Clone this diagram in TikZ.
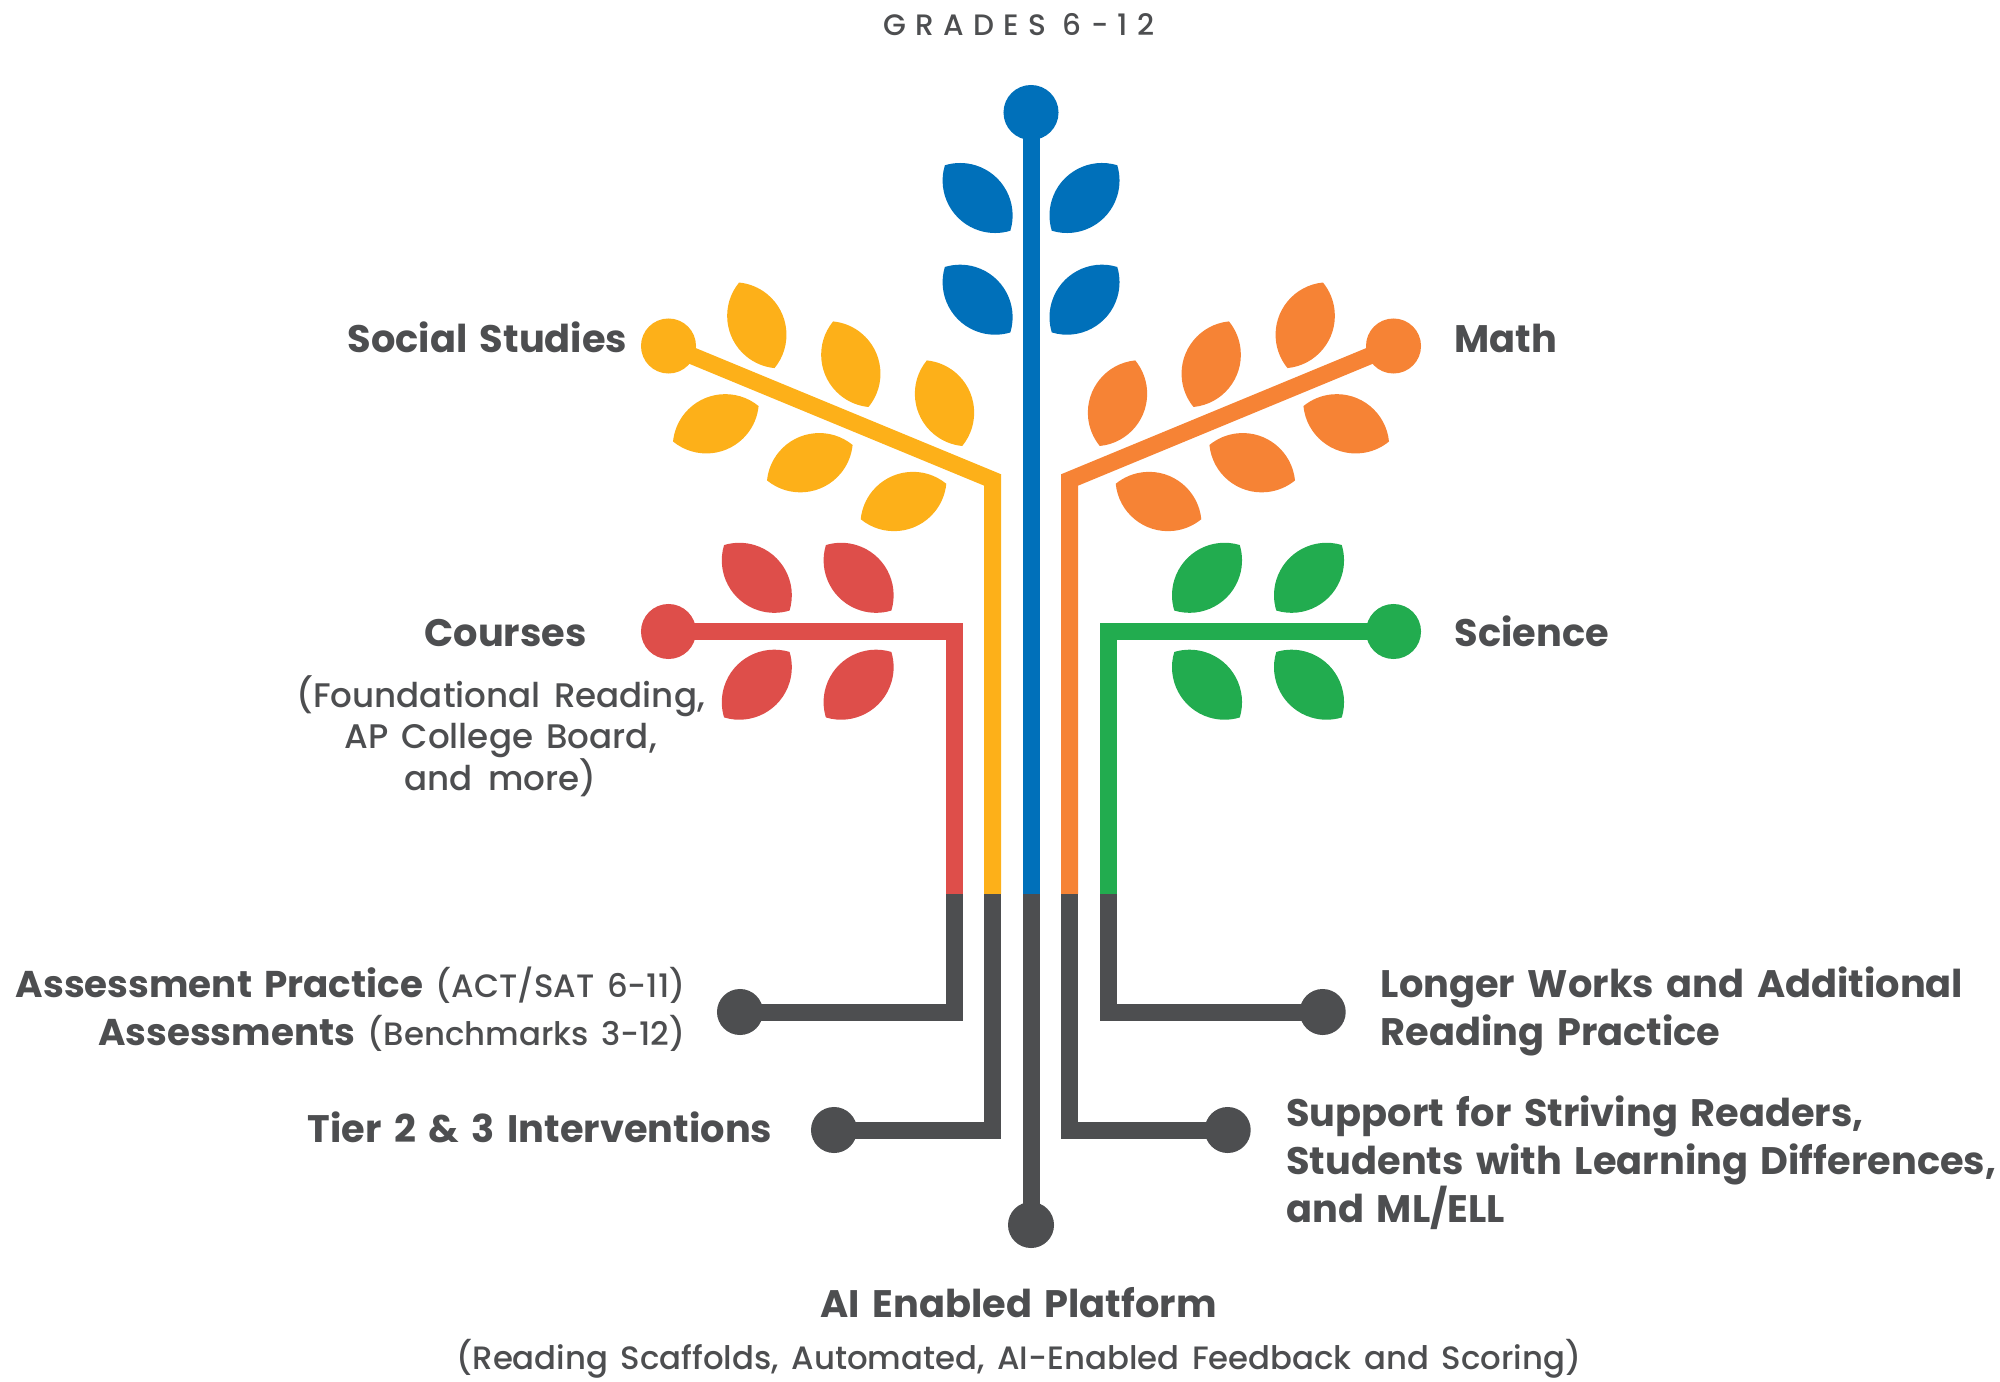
\documentclass[tikz,border=0pt]{standalone}
\usepackage{fontspec}
\setmainfont[WordSpace=1.55]{Poppins}
\newfontfamily\notefont[WordSpace=1.5]{Poppins Medium}
\newfontfamily\spacedfont[LetterSpace=31]{Poppins Medium}
\usetikzlibrary{positioning}

\definecolor{leafblue}{HTML}{0070BA}
\definecolor{leafyellow}{HTML}{FDB019}
\definecolor{leaforange}{HTML}{F68335}
\definecolor{leafred}{HTML}{DE4E4A}
\definecolor{leafgreen}{HTML}{22AC4F}
\definecolor{stem}{HTML}{4D4E50}

\newcommand{\boldpart}[1]{{\fontsize{10.6}{13.65}\selectfont\rmfamily\bfseries #1}}
\newcommand{\snuglines}{\setlength{\lineskiplimit}{-10pt}}

\tikzset{
	leaf/.pic={\path[pic actions] (-46.3,0) arc[start angle=151.9, end angle=28.1, radius=52.5]
			arc[start angle=-28.1, end angle=-151.9, radius=52.5] -- cycle;},
	limb/.style={line width=0.17cm},
	dot/.style={circle, inner sep=0pt, minimum size=0.55cm},
	root/.style={circle, inner sep=0pt, minimum size=0.46cm, fill=stem},
	title/.style={text=stem, inner sep=0pt, font=\fontsize{10.9}{13.65}\selectfont\bfseries},
	note/.style={text=stem, inner sep=0pt, font=\fontsize{9.7}{11.75}\selectfont\notefont\snuglines},
	wide note/.style={text=stem, inner sep=0pt, font=\fontsize{9.2}{11.75}\selectfont\notefont},
	mixed/.style={text=stem, inner sep=0pt, font=\fontsize{9.2}{13.65}\selectfont\notefont}
}

\begin{document}
\begin{tikzpicture}[x=0.01cm, y=-0.01cm]
	\useasboundingbox (0,0) rectangle (2000,1382);

	% leaves
	\foreach \lx/\ly/\la in {977.6/198/-45, 1084.5/198/45, 977.6/299.7/-45, 1084.5/299.7/45}
		\pic[fill=leafblue, rotate=\la] at (\lx,\ly) {leaf};
	\foreach \lx/\ly/\la in {756.8/325.3/-67.5, 850.8/364.2/-67.5, 944.5/403.2/-67.5,
			715.8/423.8/22.5, 809.8/462.7/22.5, 903.5/501.5/22.5}
		\pic[fill=leafyellow, rotate=\la] at (\lx,\ly) {leaf};
	\foreach \lx/\ly/\la in {1305.2/325.3/67.5, 1211.2/364.2/67.5, 1117.5/403.2/67.5,
			1346.2/423.8/-22.5, 1252.2/462.7/-22.5, 1158.5/501.5/-22.5}
		\pic[fill=leaforange, rotate=\la] at (\lx,\ly) {leaf};
	\foreach \lx/\ly/\la in {756.8/577.8/-45, 858.6/577.8/-45, 756.8/684.7/45, 858.6/684.7/45}
		\pic[fill=leafred, rotate=\la] at (\lx,\ly) {leaf};
	\foreach \lx/\ly/\la in {1207/577.8/45, 1309/577.8/45, 1207/684.7/-45, 1309/684.7/-45}
		\pic[fill=leafgreen, rotate=\la] at (\lx,\ly) {leaf};

	% dots
	\node[dot, fill=leafblue] (dotTop) at (1031,112.5) {};
	\node[dot, fill=leafyellow] (dotSocial) at (668.5,346) {};
	\node[dot, fill=leaforange] (dotMath) at (1393.5,346) {};
	\node[dot, fill=leafred] (dotCourses) at (668.5,631.5) {};
	\node[dot, fill=leafgreen] (dotScience) at (1393.5,631.5) {};
	\node[root] (dotAssess) at (740,1012) {};
	\node[root] (dotTier) at (834,1130) {};
	\node[root] (dotLonger) at (1322.7,1012) {};
	\node[root] (dotSupport) at (1227.7,1130) {};
	\node[root] (dotPlatform) at (1031,1225) {};

	% where the colours stop
	\coordinate (cutCourses) at (954.3,894);
	\coordinate (cutSocial) at (992.7,894);
	\coordinate (cutTrunk) at (1031,894);
	\coordinate (cutMath) at (1069.5,894);
	\coordinate (cutScience) at (1108,894);
	\coordinate (bendSocial) at (992.7,480);
	\coordinate (bendMath) at (1069.5,480);

	% branches
	\draw[limb, leafblue] (dotTop.center) -- (cutTrunk);
	\draw[limb, leafyellow] (dotSocial.center) -- (bendSocial) -- (cutSocial);
	\draw[limb, leaforange] (dotMath.center) -- (bendMath) -- (cutMath);
	\draw[limb, leafred] (dotCourses.center) -| (cutCourses);
	\draw[limb, leafgreen] (dotScience.center) -| (cutScience);

	% roots
	\draw[limb, stem] (cutTrunk) -- (dotPlatform.center);
	\draw[limb, stem] (cutCourses) |- (dotAssess.center);
	\draw[limb, stem] (cutSocial) |- (dotTier.center);
	\draw[limb, stem] (cutMath) |- (dotSupport.center);
	\draw[limb, stem] (cutScience) |- (dotLonger.center);

	% labels
	\node[text=stem, inner sep=0pt, anchor=base, font=\fontsize{8.4}{10}\selectfont\spacedfont] (grades) at (1019,35.7) {GRADES 6-12};
	\node[title, anchor=base east] (social) at (628,352.7) {Social Studies};
	\node[title, anchor=base west] (math) at (1454,352.7) {Math};
	\node[title, anchor=base] (courses) at (505.5,646) {Courses};
	\node[title, anchor=base west] (science) at (1454,646) {Science};
	\node[note, anchor=base, align=center] (coursesNote) at (500.6,790) {(Foundational Reading,\\AP College Board,\\and\hspace{0.45em}more)};
	\node[mixed, anchor=base east, align=right] (assess) at (686,1045.7) {\boldpart{Assessment Practice} (ACT/SAT 6-11)\\\boldpart{Assessments} (Benchmarks 3-12)};
	\node[title, anchor=base east] (tier) at (773,1142.7) {Tier 2 \& 3 Interventions};
	\node[title, anchor=base west, align=left] (longer) at (1380,1045.7) {Longer Works and Additional\\Reading Practice};
	\node[title, anchor=base west, align=left] (support) at (1285.7,1222.7) {Support for Striving Readers,\\Students with Learning Differences,\\and ML/ELL};
	\node[title, anchor=base] (platform) at (1018.5,1317.7) {AI Enabled Platform};
	\node[wide note, anchor=base] (platformNote) at (1019,1369) {(Reading Scaffolds, Automated, AI-Enabled Feedback and Scoring)};
\end{tikzpicture}
\end{document}
